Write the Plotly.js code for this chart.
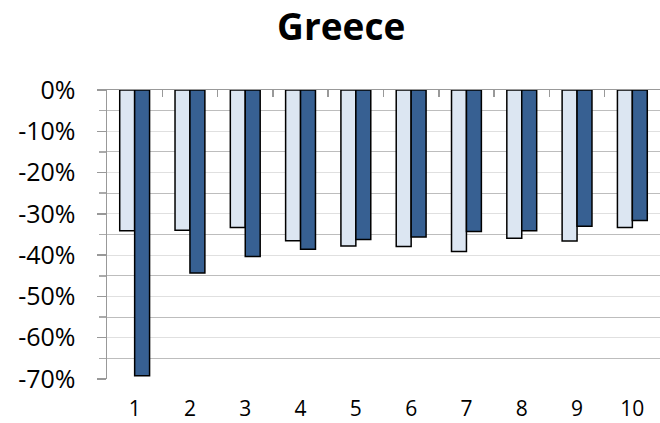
<!DOCTYPE html>
<html>
<head>
<meta charset="utf-8">
<script src="https://cdn.plot.ly/plotly-3.0.1.min.js"></script>
<style>html,body{margin:0;padding:0;background:#fff;}#chart{width:660px;height:423px;}</style>
</head>
<body>
<div id="chart"></div>
<script>
const categories = ['1','2','3','4','5','6','7','8','9','10'];
const seriesLight = [-0.341, -0.340, -0.333, -0.365, -0.378, -0.379, -0.391, -0.359, -0.366, -0.333];
const seriesDark  = [-0.692, -0.443, -0.403, -0.386, -0.362, -0.356, -0.343, -0.341, -0.330, -0.316];
const yTickVals = [0, -0.1, -0.2, -0.3, -0.4, -0.5, -0.6, -0.7];
const yTickText = ['0%', '-10%', '-20%', '-30%', '-40%', '-50%', '-60%', '-70%'];
const boundaryVals = [0.5, 1.5, 2.5, 3.5, 4.5, 5.5, 6.5, 7.5, 8.5, 9.5, 10.5];

const xNum = categories.map(c => Number(c));
const FONT = 'Open Sans, Liberation Sans, sans-serif';

const traces = [
  {type:'bar', x:xNum, y:seriesLight, name:'A',
   marker:{color:'#dce6f2', line:{color:'#000', width:1.5}}, hoverinfo:'skip'},
  {type:'bar', x:xNum, y:seriesDark, name:'B',
   marker:{color:'#376092', line:{color:'#000', width:1.5}}, hoverinfo:'skip'},
  {type:'scatter', x:[1], y:[0], xaxis:'x2', mode:'markers', marker:{opacity:0}, showlegend:false, hoverinfo:'skip'}
];

const layout = {
  width:660, height:423,
  margin:{l:107, r:0, t:90, b:44},
  paper_bgcolor:'#fff', plot_bgcolor:'#fff',
  showlegend:false,
  barmode:'group', bargap:0.46, bargroupgap:0,
  title:{text:'<b>Greece</b>', x:0.517, xanchor:'center', y:0.935, yanchor:'middle',
         font:{family:FONT, size:37, color:'#000'}},
  xaxis:{range:[0.5,10.5], tickvals:xNum, ticktext:categories, showgrid:false, zeroline:false,
         showline:false, ticks:'', tickfont:{family:FONT, size:21, color:'#000'},
         ticklabelstandoff:15},
  xaxis2:{range:[0.5,10.5], overlaying:'x', side:'top', anchor:'y',
          tickvals:boundaryVals, ticks:'inside', ticklen:7, tickcolor:'#999', tickwidth:1.5,
          showticklabels:false, showline:true, linecolor:'#999', linewidth:1.5, showgrid:false, zeroline:false},
  yaxis:{range:[-0.7,0], tickvals:yTickVals, ticktext:yTickText, showline:true, linecolor:'#999', linewidth:1.5,
         ticks:'outside', ticklen:9, tickcolor:'#999', tickwidth:1.5,
         showgrid:true, gridcolor:'#e0e0e0', gridwidth:1, zeroline:false,
         tickfont:{family:FONT, size:25, color:'#000'}, ticklabelstandoff:16,
         minor:{dtick:0.05, tick0:0, ticks:'outside', ticklen:7, tickcolor:'#aaa', showgrid:true, gridcolor:'#bdbdbd', gridwidth:1}}
};

Plotly.newPlot('chart', traces, layout, {staticPlot:true, displayModeBar:false});
</script>
</body>
</html>
